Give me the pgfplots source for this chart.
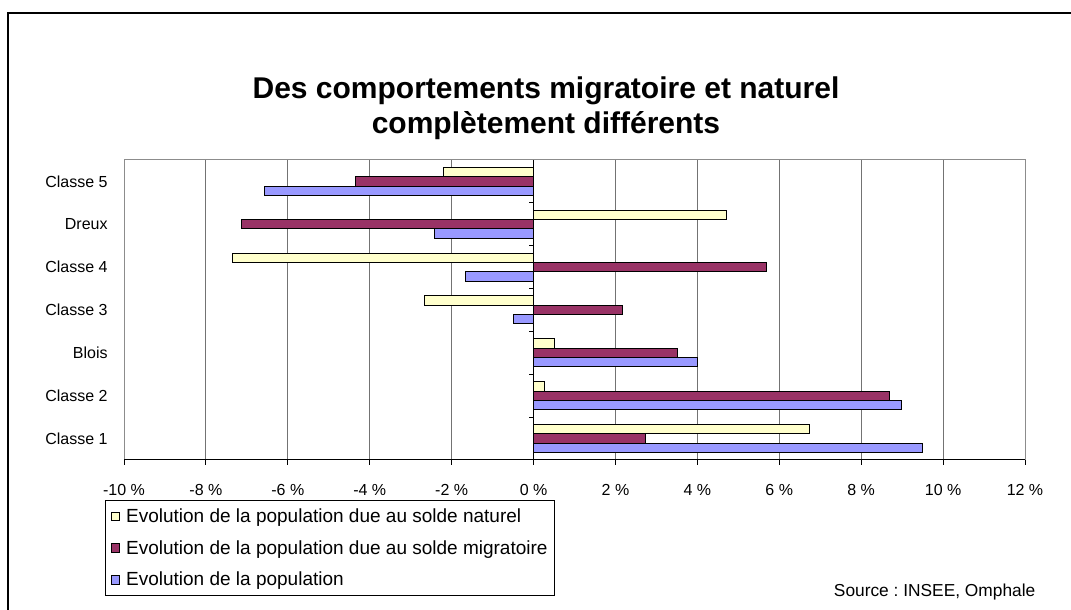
\documentclass[border=0pt]{standalone}
\usepackage{fontspec}
\setmainfont{Liberation Sans}
\usepackage{pgfplots}
\pgfplotsset{compat=1.18}
\definecolor{naturel}{HTML}{FFFFCC}
\definecolor{migr}{HTML}{993366}
\definecolor{popu}{HTML}{9999FF}
\frenchspacing

\begin{document}
\begin{tikzpicture}[x=0.75pt,y=0.75pt]
% 1 unit = 1 px of the 1071x610 reference, y measured from bottom
\path[use as bounding box] (0,0) rectangle (1071,610);
\draw[line width=1.5pt] (8,0) -- (8,597) -- (1071,597);
\node[anchor=base, font=\fontsize{22.5}{27}\selectfont\bfseries] at (546,511) {Des comportements migratoire et naturel};
\node[anchor=base, font=\fontsize{22.5}{27}\selectfont\bfseries] at (546,476) {complètement différents};

\begin{axis}[
  at={(93pt,112.5pt)}, anchor=south west, scale only axis,
  width=675.75pt, height=225pt,
  xbar=0pt, bar width=7pt,
  xmin=-10, xmax=12, ymin=-0.5, ymax=6.5,
  xtick={-10,-8,...,12},
  xticklabels={-10 \%,-8 \%,-6 \%,-4 \%,-2 \%,0 \%,2 \%,4 \%,6 \%,8 \%,10 \%,12 \%},
  ytick={0,...,6},
  yticklabels={Classe 1,Classe 2,Blois,Classe 3,Classe 4,Dreux,Classe 5},
  xtick pos=bottom, ytick pos=left,
  tick align=outside, major tick length=3.75pt,
  ytick style={draw=none},
  xtick style={black, line width=0.75pt},
  xmajorgrids, major grid style={black!55, line width=0.75pt},
  axis line style={black!45, line width=0.75pt},
  ticklabel style={font=\fontsize{12}{14}\selectfont},
  xticklabel style={yshift=-11pt},
  yticklabel style={xshift=-5pt},
  legend style={at={(-0.0211,-0.1333)}, anchor=north west, draw=black,
    line width=0.75pt, fill=white, font=\fontsize{14.25}{17}\selectfont,
    row sep=9pt, column sep=3pt, inner xsep=4pt, inner ysep=4.5pt,
    nodes={inner sep=1.5pt}, cells={anchor=west}},
  legend image code/.code={\draw[#1, draw=black, line width=0.6pt] (0pt,-3.2pt) rectangle (6.4pt,3.2pt);},
  reverse legend,
  clip=false,
]
\addplot[draw=black, line width=0.75pt, fill=popu] coordinates {
  (9.49,0) (8.98,1) (4.01,2) (-0.49,3) (-1.67,4) (-2.43,5) (-6.56,6)};
\addlegendentry{Evolution de la population}
\addplot[draw=black, line width=0.75pt, fill=migr] coordinates {
  (2.73,0) (8.70,1) (3.52,2) (2.18,3) (5.68,4) (-7.13,5) (-4.35,6)};
\addlegendentry{Evolution de la population due au solde migratoire}
\addplot[draw=black, line width=0.75pt, fill=naturel] coordinates {
  (6.74,0) (0.27,1) (0.50,2) (-2.67,3) (-7.34,4) (4.72,5) (-2.21,6)};
\addlegendentry{Evolution de la population due au solde naturel}

\draw[black, line width=0.75pt] (axis cs:0,-0.5) -- (axis cs:0,6.5);
\pgfplotsinvokeforeach{0.5,1.5,2.5,3.5,4.5,5.5}{
  \draw[black, line width=0.75pt] (axis cs:0,#1) -- ([xshift=-3.75pt]axis cs:0,#1);}
\draw[black, line width=0.75pt] (axis cs:-10,-0.5) -- (axis cs:12,-0.5);
\end{axis}

\node[anchor=base east, font=\fontsize{13}{15}\selectfont] at (1040,13) {Source : INSEE, Omphale};
\end{tikzpicture}
\end{document}
